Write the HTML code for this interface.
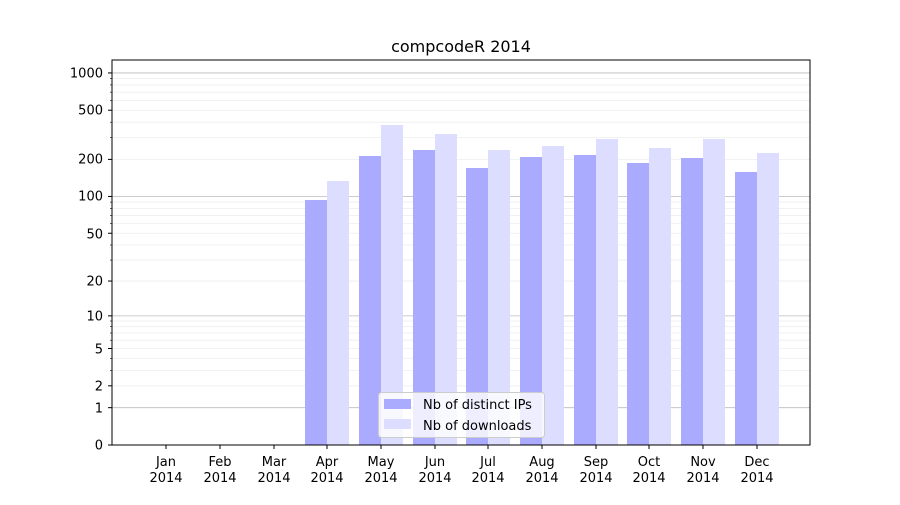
<!DOCTYPE html>
<html><head><meta charset="utf-8"><style>
body{margin:0;background:#fff}
svg text{font-family:"DejaVu Sans","Liberation Sans",sans-serif;font-size:13px;fill:#000}
</style></head><body>
<svg id="s" width="900" height="500" xmlns="http://www.w3.org/2000/svg">
<rect width="900" height="500" fill="#fff"/>
<g id="grid"></g>
<g id="bars"></g>
<rect x="112" y="60" width="698" height="385" fill="none" stroke="#000" stroke-width="1"/>
<g id="ticks"></g>
<text x="461" y="52" text-anchor="middle" style="font-size:16px">compcodeR 2014</text>
<g text-anchor="end">
<text x="103" y="449.5">0</text><text x="103" y="412.5">1</text><text x="103" y="390.5">2</text>
<text x="103" y="353.5">5</text><text x="103" y="320.5">10</text><text x="103" y="285.5">20</text>
<text x="103" y="238.5">50</text><text x="103" y="200.5">100</text><text x="103" y="163.5">200</text>
<text x="103" y="114.5">500</text><text x="103" y="77.5">1000</text>
</g>
<g text-anchor="middle">
<text x="166" y="466">Jan</text><text x="166" y="482">2014</text>
<text x="220" y="466">Feb</text><text x="220" y="482">2014</text>
<text x="274" y="466">Mar</text><text x="274" y="482">2014</text>
<text x="327" y="466">Apr</text><text x="327" y="482">2014</text>
<text x="381" y="466">May</text><text x="381" y="482">2014</text>
<text x="435" y="466">Jun</text><text x="435" y="482">2014</text>
<text x="488" y="466">Jul</text><text x="488" y="482">2014</text>
<text x="542" y="466">Aug</text><text x="542" y="482">2014</text>
<text x="596" y="466">Sep</text><text x="596" y="482">2014</text>
<text x="649" y="466">Oct</text><text x="649" y="482">2014</text>
<text x="703" y="466">Nov</text><text x="703" y="482">2014</text>
<text x="757" y="466">Dec</text><text x="757" y="482">2014</text>
</g>
<rect x="378.5" y="392.5" width="166" height="45" rx="3" fill="#fff" fill-opacity="0.8" stroke="#ccc"/>
<rect x="384" y="399" width="27" height="10" fill="#aaaaff"/>
<rect x="384" y="419" width="27" height="10" fill="#ddddff"/>
<text x="423" y="409">Nb of distinct IPs</text>
<text x="423" y="430">Nb of downloads</text>
</svg>
<script>
var NS="http://www.w3.org/2000/svg";
function el(p,t,a){var e=document.createElementNS(NS,t);for(var k in a)e.setAttribute(k,a[k]);document.getElementById(p).appendChild(e);}
function Y(v){return 445-124*Math.log10(1+v);}
for(var d=1;d<=1000;d*=10){for(var m=1;m<10;m++){var v=m*d;if(v>1300)break;var y=Y(v);
 el("grid","line",{x1:112,x2:810,y1:y,y2:y,stroke:m==1?"#bbb":"#eee","stroke-width":m==1?0.8:0.8});}}
var t=[0,1,2,5,10,20,50,100,200,500,1000];
t.forEach(function(v){var y=Y(v);el("ticks","line",{x1:108,x2:112,y1:y,y2:y,stroke:"#000"});});
for(var d=1;d<=1000;d*=10)for(var m=1;m<10;m++){var v=m*d;if(v>1300||t.indexOf(v)>=0)continue;var y=Y(v);el("ticks","line",{x1:110,x2:112,y1:y,y2:y,stroke:"#000","stroke-width":0.6});}
var cs=[166,220,274,327,381,435,488,542,596,649,703,757];
cs.forEach(function(c){el("ticks","line",{x1:c,x2:c,y1:445,y2:449,stroke:"#000"});});
var dk=[0,0,0,200,156,150,168,157,155,163,158,172];
var lt=[0,0,0,181,125,134,150,146,139,148,139,153];
for(var i=3;i<12;i++){var c=cs[i];
 el("bars","rect",{x:c-22,y:dk[i],width:22,height:445-dk[i],fill:"#aaaaff"});
 el("bars","rect",{x:c,y:lt[i],width:22,height:445-lt[i],fill:"#ddddff"});}
</script>
</body></html>
